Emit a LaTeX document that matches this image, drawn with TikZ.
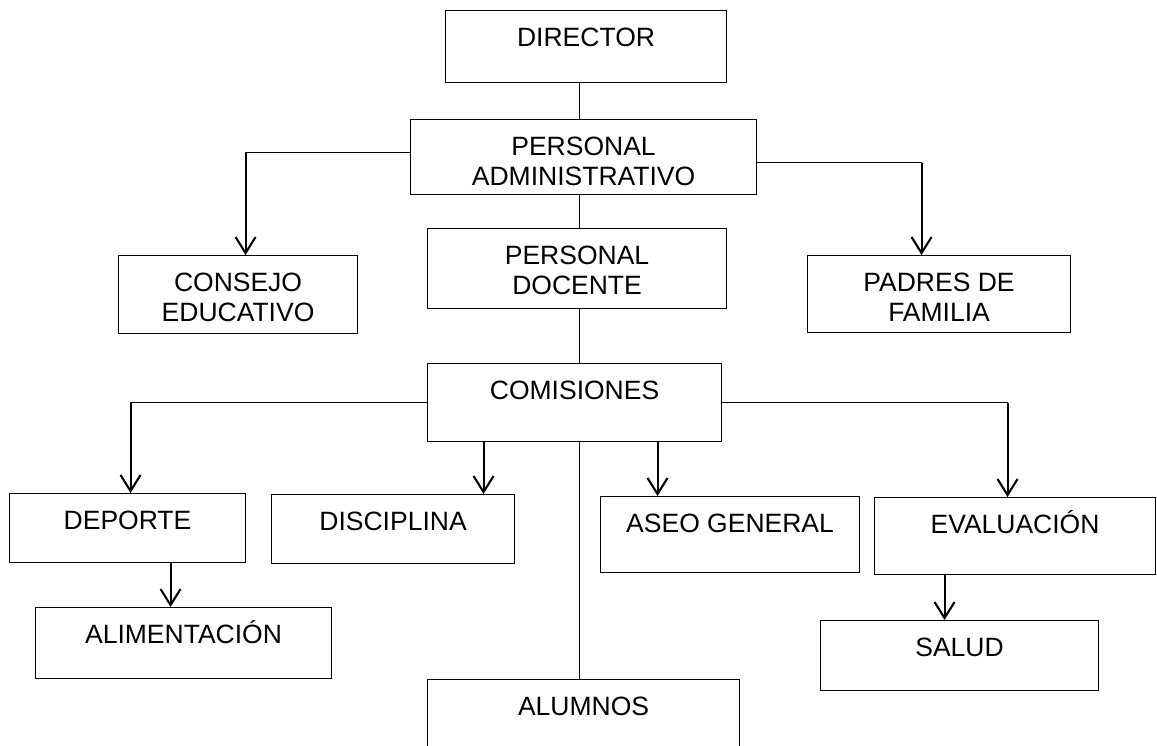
\documentclass[tikz,border=0pt]{standalone}
\usepackage{fontspec}
\setmainfont{Liberation Sans}
\usetikzlibrary{arrows.meta}
\newcommand{\boxtext}[3]{\begin{minipage}[t][#2][t]{#1}\centering\rule{0pt}{35.5pt}#3\end{minipage}}

\begin{document}
\begin{tikzpicture}[x=1pt, y=-1pt,
	box/.style = {draw, line width=1.1pt, inner sep=0pt, anchor=north west, font=\fontsize{26.5}{30.5}\selectfont},
	link/.style = {line width=0.9pt},
	arr/.style = {line width=2.1pt, -{Straight Barb[length=16pt, width=20pt]}}]

	\useasboundingbox (0,0) rectangle (1157,746);
	\clip (0,0) rectangle (1157,746);

	% boxes
	\node[box] (dir) at (445,10) {\boxtext{281pt}{72pt}{DIRECTOR}};
	\node[box] (pa) at (410,119) {\boxtext{346pt}{75pt}{PERSONAL\\ADMINISTRATIVO}};
	\node[box] (cons) at (118,255) {\boxtext{239pt}{78pt}{CONSEJO\\EDUCATIVO}};
	\node[box] (pd) at (427,228) {\boxtext{299pt}{80pt}{PERSONAL\\DOCENTE}};
	\node[box] (padres) at (807,255) {\boxtext{263pt}{77pt}{PADRES DE\\FAMILIA}};
	\node[box] (com) at (427,363) {\boxtext{294pt}{78pt}{COMISIONES}};
	\node[box] (dep) at (9,493) {\boxtext{236pt}{69pt}{DEPORTE}};
	\node[box] (disc) at (271,494) {\boxtext{243pt}{69pt}{DISCIPLINA}};
	\node[box] (aseo) at (600,496) {\boxtext{259pt}{76pt}{ASEO GENERAL}};
	\node[box] (eval) at (874,497) {\boxtext{281pt}{77pt}{EVALUACIÓN}};
	\node[box] (alim) at (35,607) {\boxtext{296pt}{71pt}{ALIMENTACIÓN}};
	\node[box] (salud) at (820,620) {\boxtext{278pt}{70pt}{SALUD}};
	\node[box] (alum) at (427,679) {\boxtext{312pt}{90pt}{ALUMNOS}};

	% trunk
	\coordinate (trunk) at (579,0);
	\draw[link] (dir.south -| trunk) -- (pa.north -| trunk);
	\draw[link] (pa.south -| trunk) -- (pd.north -| trunk);
	\draw[link] (pd.south -| trunk) -- (com.north -| trunk);
	\draw[link] (com.south -| trunk) -- (alum.north -| trunk);

	% side branches
	\draw[link] ([yshift=4.5pt]pa.west) -| coordinate (kcons) ([xshift=7.5pt]cons.north);
	\draw[arr] (kcons) -- ([xshift=7.5pt]cons.north);
	\draw[link] ([yshift=-5.5pt]pa.east) -| coordinate (kpad) ([xshift=-17.5pt]padres.north);
	\draw[arr] (kpad) -- ([xshift=-17.5pt]padres.north);
	\draw[link] (com.west) -| coordinate (kdep) ([xshift=3pt]dep.north);
	\draw[arr] (kdep) -- ([xshift=3pt]dep.north);
	\draw[link] (com.east) -| coordinate (keval) ([xshift=-7.5pt]eval.north);
	\draw[arr] (keval) -- ([xshift=-7.5pt]eval.north);

	% short arrows
	\coordinate (tdisc) at ([xshift=90.5pt]disc.north);
	\coordinate (taseo) at ([xshift=-72.5pt]aseo.north);
	\coordinate (talim) at ([xshift=-13pt]alim.north);
	\coordinate (tsalud) at ([xshift=-15pt]salud.north);
	\draw[arr] (tdisc |- com.south) -- (tdisc);
	\draw[arr] (taseo |- com.south) -- (taseo);
	\draw[arr] (talim |- dep.south) -- (talim);
	\draw[arr] (tsalud |- eval.south) -- (tsalud);
\end{tikzpicture}
\end{document}
